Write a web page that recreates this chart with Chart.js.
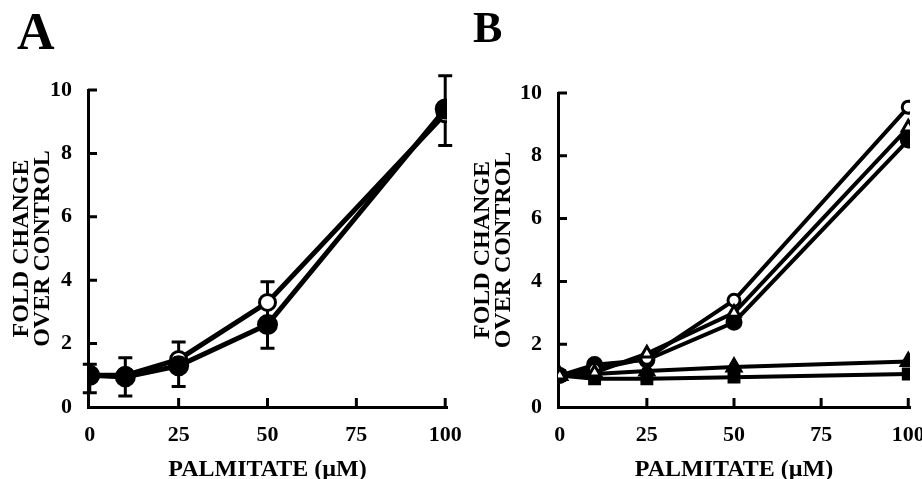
<!DOCTYPE html>
<html>
<head>
<meta charset="utf-8">
<script src="https://cdn.jsdelivr.net/npm/chart.js@4.4.0/dist/chart.umd.min.js"></script>
<style>
  body { margin: 0; background: #fff; }
  .panel { position: absolute; top: 0; width: 461px; height: 479px; }
  .tag { position: absolute; font-family: 'Liberation Serif', serif; font-weight: bold; line-height: 1; color: #000; }
</style>
</head>
<body>
<div class="panel" style="left:0"><canvas id="chart_a" width="461" height="479"></canvas></div>
<div class="panel" style="left:461px"><canvas id="chart_b" width="461" height="479"></canvas></div>
<div class="tag" style="left:17px;top:6px;font-size:52px">A</div>
<div class="tag" style="left:473px;top:6px;font-size:44px">B</div>
<script>
const palmitate = [0, 10, 25, 50, 100]
const xTicks = [0, 25, 50, 75, 100]
const yTicks = [0, 2, 4, 6, 8, 10]
const xTitle = 'PALMITATE (µM)'
const yTitle = ['FOLD CHANGE', 'OVER CONTROL']

// panel A
const aFilled = [1.0, 0.95, 1.3, 2.6, 9.4]
const aOpen = [1.0, 1.0, 1.5, 3.3, 9.25]
const aErrLow = [0.45, 0.35, 0.65, 1.85, 8.25]
const aErrHigh = [1.35, 1.55, 2.05, 3.95, 10.45]

// panel B
const bOpenTriangle = [1.0, 1.1, 1.7, 3.0, 8.9]
const bOpenCircle = [1.0, 1.2, 1.55, 3.4, 9.55]
const bFilledCircle = [1.0, 1.35, 1.5, 2.7, 8.5]
const bFilledTriangle = [1.0, 1.05, 1.15, 1.27, 1.45]
const bFilledSquare = [1.0, 0.9, 0.9, 0.95, 1.05]

const FONT = "'Liberation Serif', 'Times New Roman', serif"

function pts(values) {
    return palmitate.map((x, i) => ({x: x, y: values[i]}))
}

// error bars + short inward ticks on both axes
const paperMarks = {
    id: 'paperMarks',
    beforeDatasetsDraw(chart, args, opts) {
        if (!opts.low) return
        const ctx = chart.ctx
        const xs = chart.scales.x, ys = chart.scales.y
        ctx.save()
        ctx.strokeStyle = '#000'
        ctx.lineWidth = 3
        for (let i = 0; i < palmitate.length; i++) {
            const px = xs.getPixelForValue(palmitate[i])
            const lo = ys.getPixelForValue(opts.low[i])
            const hi = ys.getPixelForValue(opts.high[i])
            ctx.beginPath()
            ctx.moveTo(px, lo); ctx.lineTo(px, hi)
            ctx.moveTo(px - 7, lo); ctx.lineTo(px + 7, lo)
            ctx.moveTo(px - 7, hi); ctx.lineTo(px + 7, hi)
            ctx.stroke()
        }
        ctx.restore()
    },
    afterDraw(chart) {
        const ctx = chart.ctx
        const area = chart.chartArea
        const xs = chart.scales.x, ys = chart.scales.y
        ctx.save()
        ctx.strokeStyle = '#000'
        ctx.lineWidth = 3
        ctx.beginPath()
        for (const v of yTicks) {
            if (v === 0) continue
            const py = ys.getPixelForValue(v)
            ctx.moveTo(area.left, py); ctx.lineTo(area.left + 9, py)
        }
        for (const v of xTicks) {
            if (v === 0) continue
            const px = xs.getPixelForValue(v)
            ctx.moveTo(px, area.bottom); ctx.lineTo(px, area.bottom - 9)
        }
        ctx.stroke()
        ctx.restore()
    }
}

function makeOptions(yWidth, padTop, padRight, errors) {
    return {
        responsive: false,
        animation: false,
        layout: {padding: {left: 0, top: padTop, right: padRight, bottom: 0}},
        plugins: {
            legend: {display: false},
            tooltip: {enabled: false},
            paperMarks: errors
        },
        scales: {
            x: {
                type: 'linear',
                min: -0.5,
                max: 100.5,
                afterBuildTicks: s => { s.ticks = xTicks.map(v => ({value: v})) },
                afterFit: s => { s.height = 72; s.paddingLeft = 0; s.paddingRight = 0 },
                grid: {display: false},
                border: {display: true, color: '#000', width: 3},
                ticks: {color: '#000', padding: 7, maxRotation: 0,
                        font: {family: FONT, size: 22, weight: 'bold'}},
                title: {display: true, text: xTitle, color: '#000', padding: {top: 0, bottom: 0},
                        font: {family: FONT, size: 24, weight: 'bold', lineHeight: 0.8}}
            },
            y: {
                min: 0,
                max: 10,
                afterBuildTicks: s => { s.ticks = yTicks.map(v => ({value: v})) },
                afterFit: s => { s.width = yWidth; s.paddingTop = 0; s.paddingBottom = 0 },
                grid: {display: false},
                border: {display: true, color: '#000', width: 3},
                ticks: {color: '#000', padding: 8,
                        font: {family: FONT, size: 22, weight: 'bold'}},
                title: {display: true, text: yTitle, color: '#000', padding: {top: 12, bottom: 0},
                        font: {family: FONT, size: 24, weight: 'bold', lineHeight: 0.85}}
            }
        }
    }
}

function series(values, style, filled, radius, width) {
    return {
        data: pts(values),
        borderColor: '#000',
        borderWidth: width,
        pointStyle: style,
        pointRadius: radius,
        pointBorderWidth: 3,
        pointBorderColor: '#000',
        pointBackgroundColor: filled ? '#000' : '#fff',
        tension: 0
    }
}

// dataset 0 is drawn on top
new Chart(document.getElementById('chart_a'), {
    type: 'line',
    data: {
        datasets: [
            series(aFilled, 'circle', true, 9, 5),
            series(aOpen, 'circle', false, 8, 5)
        ]
    },
    options: makeOptions(88, 90, 14, {low: aErrLow, high: aErrHigh}),
    plugins: [paperMarks]
})

new Chart(document.getElementById('chart_b'), {
    type: 'line',
    data: {
        datasets: [
            series(bOpenTriangle, 'triangle', false, 7, 4),
            series(bOpenCircle, 'circle', false, 6, 4),
            series(bFilledCircle, 'circle', true, 7, 4),
            series(bFilledTriangle, 'triangle', true, 8, 4),
            series(bFilledSquare, 'rect', true, 7, 4)
        ]
    },
    options: makeOptions(97, 93, 12, {}),
    plugins: [paperMarks]
})
</script>
</body>
</html>
